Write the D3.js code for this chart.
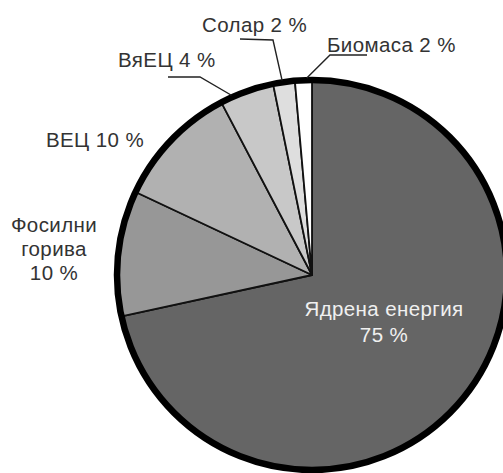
<!DOCTYPE html>
<html><head><meta charset="utf-8">
<script src="https://cdn.jsdelivr.net/npm/d3@7"></script>
<style>
html,body{margin:0;padding:0;background:#fff;}
svg{display:block;}
text{font-family:"Liberation Sans",Arial,sans-serif;}
</style></head>
<body>
<svg id="c" width="503" height="473"></svg>
<script>
const categories = ["Ядрена енергия", "Фосилни горива", "ВЕЦ", "ВяЕЦ", "Солар", "Биомаса"];
const values = [71.6, 10.4, 10.3, 4.5, 1.8, 1.4];
const labelLines = [
  ["Ядрена енергия", "75 %"],
  ["Фосилни", "горива", "10 %"],
  ["ВЕЦ 10 %"],
  ["ВяЕЦ 4 %"],
  ["Солар 2 %"],
  ["Биомаса 2 %"]
];

const fills = ["#656565", "#979797", "#b1b1b1", "#c8c8c8", "#dedede", "#ffffff"];

const svg = d3.select("#c");
const cx = 312, cy = 275, R = 195;
const g = svg.append("g").attr("transform", `translate(${cx},${cy})`);

const pie = d3.pie().sort(null).value(d => d)(values);
const arc = d3.arc().innerRadius(0).outerRadius(R);

g.selectAll("path.slice").data(pie).enter().append("path")
  .attr("class", "slice")
  .attr("d", arc)
  .attr("fill", (d, i) => fills[i])
  .attr("stroke", "#111")
  .attr("stroke-width", 1.8)
  .attr("stroke-linejoin", "round");

g.append("circle").attr("r", R).attr("fill", "none")
  .attr("stroke", "#000").attr("stroke-width", 6.5);

// label layout: [x, y(baseline of first line), anchor, lineHeight]
const labelPos = [
  [384, 316, "middle", 26],
  [54, 232, "middle", 24],
  [95, 147, "middle", 24],
  [118, 67, "start", 24],
  [202, 32, "start", 24],
  [327, 52, "start", 24]
];
const textColor = ["#f0f0f0", "#333", "#333", "#333", "#333", "#333"];

labelLines.forEach((lines, i) => {
  const p = labelPos[i];
  const t = svg.append("text")
    .attr("x", p[0]).attr("y", p[1])
    .attr("text-anchor", p[2])
    .attr("font-size", 20.5)
    .attr("letter-spacing", 0.4)
    .attr("fill", textColor[i]);
  lines.forEach((ln, k) => {
    t.append("tspan").attr("x", p[0]).attr("y", p[1] + k * p[3]).text(ln);
  });
});

// leader lines: elbow points (layout) and the end point on the rim from the arc angles
const leaders = [
  {i: 3, pts: [[168, 77], [200, 77]], frac: 0.22},
  {i: 4, pts: [[240, 39], [273, 40]], frac: 0.43},
  {i: 5, pts: [[367, 55], [330, 55]], frac: 0.7}
];
leaders.forEach(L => {
  const d = pie[L.i];
  const a = d.startAngle + L.frac * (d.endAngle - d.startAngle);
  const end = [cx + (R + 2) * Math.sin(a), cy - (R + 2) * Math.cos(a)];
  svg.append("path")
    .attr("d", d3.line()([...L.pts, end]))
    .attr("fill", "none").attr("stroke", "#222").attr("stroke-width", 1.4);
});
</script>
</body></html>
